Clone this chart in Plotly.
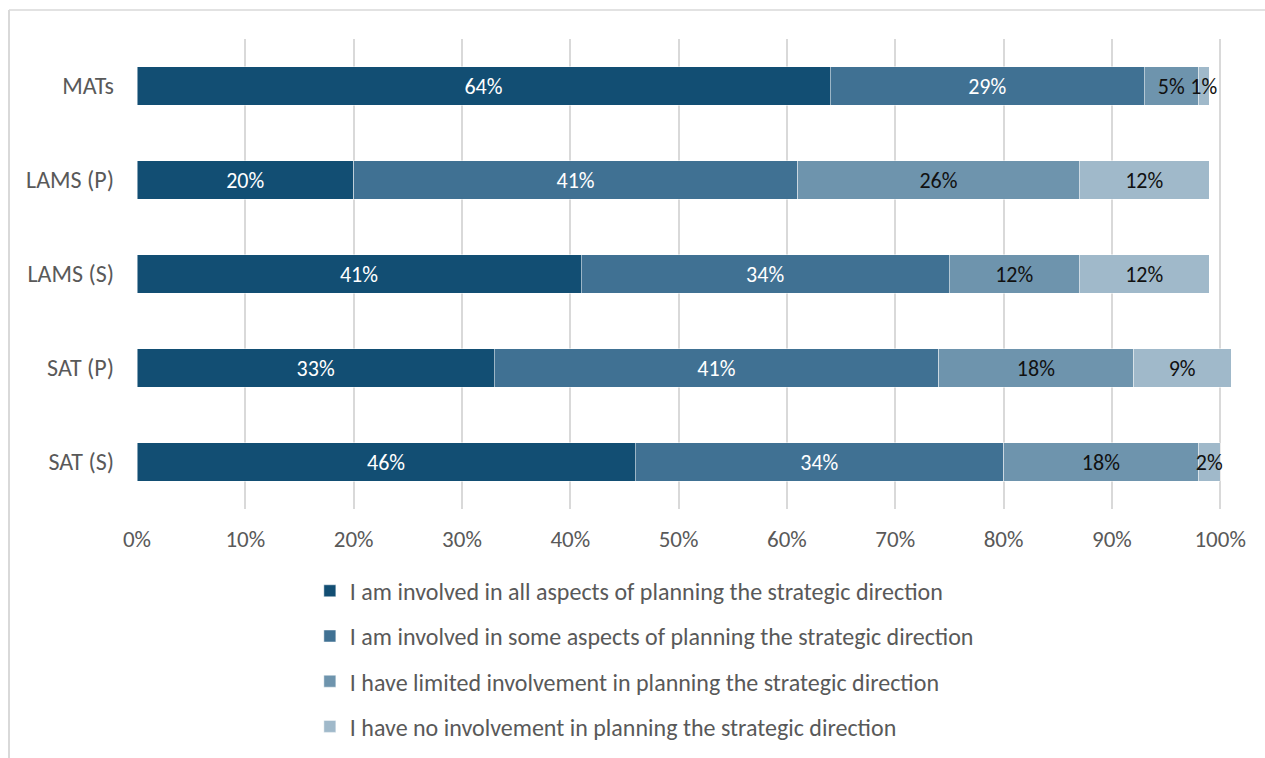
import plotly.graph_objects as go

# Respondent groups (top to bottom) and share of responses per involvement level
groups = ["MATs", "LAMS (P)", "LAMS (S)", "SAT (P)", "SAT (S)"]
all_aspects = [64, 20, 41, 33, 46]
some_aspects = [29, 41, 34, 41, 34]
limited = [5, 26, 12, 18, 18]
none_inv = [1, 12, 12, 9, 2]

series_names = [
    "I am involved in all aspects of planning the strategic direction",
    "I am involved in some aspects of planning the strategic direction",
    "I have limited involvement in planning the strategic direction",
    "I have no involvement in planning the strategic direction",
]
series_values = [all_aspects, some_aspects, limited, none_inv]
colors = ["#124e73", "#407193", "#6e94ad", "#a0b9ca"]
label_colors = ["white", "white", "#111111", "#111111"]
tick_labels = ["0%", "10%", "20%", "30%", "40%", "50%", "60%", "70%", "80%", "90%", "100%"]
tick_vals = list(range(0, 101, 10))

FONT = "Carlito, Calibri, Lato, sans-serif"
GREY = "#595959"

fig = go.Figure()
for i, (name, vals) in enumerate(zip(series_names, series_values)):
    fig.add_trace(go.Bar(
        y=groups,
        x=vals,
        name=name,
        orientation="h",
        legendgroup=f"g{i}",
        marker=dict(color=colors[i], line=dict(color="rgba(255,255,255,0.6)", width=0.8)),
        text=[f"{v}%" for v in vals],
        textposition="inside",
        insidetextanchor="middle",
        textangle=0,
        constraintext="none",
        cliponaxis=False,
        textfont=dict(family=FONT, size=22, color=label_colors[i]),
        hovertemplate="%{y}: %{x}%<extra></extra>",
    ))

# light frame around the chart
fig.add_shape(type="line", xref="paper", yref="paper",
              x0=-0.117, x1=1.07, y0=1.0617, y1=1.0617,
              line=dict(color="#d9d9d9", width=1.5))
fig.add_shape(type="line", xref="paper", yref="paper",
              x0=-0.117, x1=-0.117, y0=1.0617, y1=-0.6,
              line=dict(color="#d9d9d9", width=2))

fig.update_layout(
    width=1265,
    height=758,
    barmode="stack",
    bargap=0.595,
    plot_bgcolor="white",
    paper_bgcolor="white",
    margin=dict(l=137, r=34, t=39, b=249, autoexpand=False),
    font=dict(family=FONT, size=23, color=GREY),
    showlegend=True,
    legend=dict(
        orientation="v",
        x=0.158, xanchor="left",
        y=-0.127, yanchor="top",
        traceorder="grouped",
        tracegroupgap=11,
        itemclick=False,
        font=dict(family=FONT, size=24, color=GREY),
        bgcolor="rgba(0,0,0,0)",
    ),
    xaxis=dict(
        range=[0, 101],
        tickvals=tick_vals,
        ticktext=tick_labels,
        showgrid=True,
        gridcolor="#d9d9d9",
        gridwidth=1.5,
        zeroline=False,
        showline=False,
        ticks="",
        ticklabelstandoff=14,
        tickfont=dict(family=FONT, size=23, color=GREY),
        fixedrange=True,
    ),
    yaxis=dict(
        categoryorder="array",
        categoryarray=groups[::-1],
        showgrid=False,
        zeroline=False,
        showline=False,
        ticks="",
        ticklabelstandoff=22,
        tickfont=dict(family=FONT, size=24, color=GREY),
        fixedrange=True,
    ),
)

fig.write_html("out.html")
